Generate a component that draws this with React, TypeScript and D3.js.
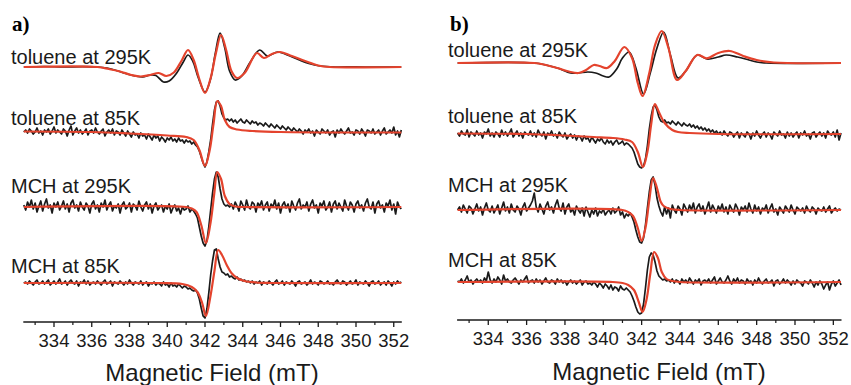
import React from "react";
import * as d3 from "d3";

// field grid used by the noisy spectra (mT)
const FIELD_START = 332.4;
const FIELD_END = 352.4;
const FIELD_STEP = 0.1;

const majorTicks = [334, 336, 338, 340, 342, 344, 346, 348, 350, 352];
const minorTicks = [333, 335, 337, 339, 341, 343, 345, 347, 349, 351];
const rowLabels = ["toluene at 295K", "toluene at 85K", "MCH at 295K", "MCH at 85K"];
const axisTitle = "Magnetic Field (mT)";

// ---- panel a ----
const tol295A_exp: [number, number][] = [
  [332.4, 1], [333.5, 1.5], [334.5, 1], [335.5, 1.3], [336.3, 1], [336.8, 0], [337.3, -2.5], [337.8, -5.5],
  [338.3, -8], [338.7, -9], [339.1, -7], [339.4, -7.5], [339.8, -14], [340.1, -13], [340.5, -5], [340.85, 6],
  [341.1, 13], [341.35, 7], [341.65, -10], [342.0, -24], [342.28, -12], [342.55, 15], [342.8, 35], [343.05, 20],
  [343.3, -3], [343.6, -12], [343.95, -8], [344.4, 6], [344.9, 18], [345.3, 12], [345.85, 16], [346.5, 12],
  [347.0, 8], [347.5, 4.5], [348.1, 2], [348.9, 1], [350, 1.2], [351, 0.8], [352.4, 1],
];
const tol295A_fit: [number, number][] = [
  [332.4, 1], [336.3, 1], [336.9, -1], [337.5, -3.5], [338.1, -7], [338.6, -8.5], [339.1, -7], [339.55, -5],
  [339.95, -8], [340.35, -4.5], [340.75, 7], [341.1, 18], [341.4, 8], [341.68, -10], [342.0, -25], [342.3, -10],
  [342.58, 15], [342.85, 33], [343.12, 18], [343.4, -3], [343.7, -10], [344.1, -5], [344.75, 15], [345.12, 10],
  [345.55, 14], [345.97, 16], [346.6, 12], [347.3, 7], [348.0, 2.5], [348.6, 1], [352.4, 1],
];
const tol85A_exp = [
  0, 2, -1, 3, 1, -2, 0, 4, -1, 1,
  -3, 2, 0, 3, -2, 1, 5, -1, 2, 0,
  -2, 3, 1, -4, 2, 6, -3, 1, 4, -1,
  2, -2, 0, 3, -3, 1, 2, -1, 4, 0,
  -2, 1, 3, -4, 0, 2, -1, 3, -3, 1,
  0, -3, 2, -1, -4, 1, -2, -5, 0, -3,
  -2, -6, -1, -4, -3, -7, -2, -5, -8, -3,
  -6, -4, -9, -5, -7, -10, -6, -8, -5, -9,
  -7, -10, -6, -9, -8, -11, -8, -10, -9, -12,
  -10, -13, -15, -19, -25, -31, -35, -30, -20, -8,
  8, 22, 30, 31, 26, 18, 14, 12, 13, 11,
  13, 10, 12, 9, 11, 13, 10, 9, 12, 10,
  8, 11, 9, 10, 7, 9, 8, 6, 9, 7,
  5, 8, 6, 4, 7, 5, 3, 6, 4, 2,
  5, 3, 1, 4, 2, 0, 3, 1, -2, 2,
  0, 3, -1, 1, -4, 2, 0, -2, 3, 1,
  -1, 2, -3, 0, 1, -5, 2, -1, 3, 0,
  -2, 1, 4, -1, 0, -3, 2, 1, -2, 3,
  0, -4, 2, 1, -1, 3, -2, 0, 2, -3,
  1, 4, -2, 0, 2, -1, 5, -3, 1, -5,
  2,
];
const tol85A_fit: [number, number][] = [
  [332.4, 0.5], [336, 0], [338, -1.5], [340, -3.5], [341, -5], [341.4, -8], [341.7, -18], [342.0, -34],
  [342.25, -18], [342.45, 8], [342.65, 31], [342.85, 26], [343.05, 12], [343.3, 5], [343.7, 2.5], [344.5, 1],
  [346, 0], [352.4, -0.5],
];
const mch295A_exp = [
  2, -3, 5, 0, 7, -2, 4, -5, 1, 6,
  -4, 3, 8, -1, 2, -6, 4, 0, 5, -3,
  1, 6, -2, 3, -5, 4, 7, -1, 2, -4,
  5, 0, -3, 4, 1, -6, 3, 6, -2, 2,
  -5, 4, 0, 7, -3, 2, 5, -4, 1, -1,
  3, -6, 2, 5, -2, 0, 4, -5, 3, 1,
  -3, 6, 0, -4, 2, 5, -2, 3, -6, 1,
  4, -3, 0, 2, -5, 1, -2, 3, -6, -1,
  2, -4, -1, -7, 0, -3, -2, 1, -5, -2,
  -4, -7, -11, -20, -29, -36, -39, -34, -20, -3,
  14, 28, 35, 30, 18, 8, 3, 1, 2, 0,
  3, -2, 5, 1, -4, 6, 2, -3, 7, 0,
  -2, 5, 3, -5, 4, 1, 6, -3, 2, 5,
  -4, 3, 0, 7, -2, 4, -6, 2, 5, -1,
  3, -5, 6, 1, -3, 4, 8, -2, 2, 0,
  5, -4, 3, 7, -1, 2, -6, 4, 1, 6,
  -3, 0, 5, -5, 3, 6, -2, 4, 0, -4,
  7, 1, -3, 5, 2, -5, 3, 6, -1, 2,
  -4, 4, 8, 0, -2, 5, -6, 3, 6, -1,
  2, -5, 4, 1, 7, -3, 3, -7, 5, 0,
  -2,
];
const mch295A_fit: [number, number][] = [
  [332.4, 0], [341.0, 0], [341.3, -1.5], [341.55, -5], [341.8, -18], [342.05, -36], [342.3, -15], [342.5, 15],
  [342.65, 35], [342.85, 28], [343.05, 11], [343.3, 3], [343.6, 0.5], [344, 0], [352.4, 0],
];
const mch85A_exp = [
  0, 1, -1, 2, 0, -2, 1, 3, -1, 0,
  2, -1, 1, 3, -2, 0, 2, -1, 1, 4,
  -1, 0, 2, -2, 1, 3, 0, -1, 2, -3,
  1, 0, 3, -1, 2, -2, 0, 1, -1, 2,
  0, -2, 1, 3, -1, 0, 2, -3, 1, 0,
  -1, 2, 0, -2, 1, -1, 3, 0, -2, 1,
  0, -1, 2, -2, 0, 1, -3, 0, -1, 1,
  -2, 0, -1, -3, 1, -2, -1, -4, 0, -3,
  -2, -4, -1, -3, -5, -3, -4, -6, -5, -7,
  -8, -7, -10, -16, -25, -33, -35, -26, -10, 8,
  22, 33, 34, 24, 16, 11, 10, 8, 9, 6,
  7, 5, 4, 6, 3, 4, 2, 3, 1, 2,
  0, 2, -1, 1, 0, 2, -2, 1, 0, -1,
  2, 0, -2, 1, 3, -1, 0, 2, -2, 1,
  0, -1, 2, 0, -3, 1, 2, -1, 0, 1,
  -2, 0, 3, -1, 1, 0, -2, 2, 1, -1,
  0, 2, -1, 0, -2, 1, 3, 0, -1, 2,
  1, -2, 0, 2, -1, 0, 3, -2, 1, 0,
  -1, 2, 0, -3, 1, 2, -1, 0, 2, -2,
  0, 1, -2, 2, 0, -3, 1, -1, 2, 0,
  1,
];
const mch85A_fit: [number, number][] = [
  [332.4, 0], [339.5, 0], [340.8, -1], [341.3, -4], [341.6, -9], [341.85, -20], [342.05, -33], [342.3, -12],
  [342.5, 12], [342.7, 33], [342.9, 28], [343.15, 18], [343.4, 10], [343.7, 5], [344.1, 2], [344.7, 0.5],
  [345.5, 0], [352.4, 0],
];

// ---- panel b ----
const tol295B_exp: [number, number][] = [
  [332.4, 0], [336.4, 0], [337.0, -2], [337.6, -5], [338.3, -10], [338.7, -10], [339.2, -9], [339.6, -10],
  [340.0, -13], [340.3, -14], [340.7, -6], [341.0, 5], [341.35, 11], [341.7, -5], [342.1, -31], [342.45, -10],
  [342.8, 15], [343.15, 31], [343.5, 8], [343.9, -15], [344.3, -8], [344.9, 8], [345.4, 4], [346.0, 6],
  [346.4, 8], [347.0, 6], [347.6, 3], [348.0, 1], [348.5, 0], [352.4, 0],
];
const tol295B_fit: [number, number][] = [
  [332.4, 0], [336.4, 0], [337.0, -2], [337.6, -5], [338.2, -8.5], [338.7, -10], [339.1, -7], [339.5, -2],
  [339.8, -3], [340.2, -5], [340.6, 2], [341.1, 16], [341.5, 5], [341.8, -20], [342.05, -33], [342.4, -10],
  [342.7, 18], [343.05, 32], [343.4, 15], [343.85, -17], [344.3, -8], [344.9, 8], [345.4, 4.7], [346.0, 10],
  [346.6, 12], [347.3, 7], [348.0, 3], [348.9, 0.5], [352.4, 0],
];
const tol85B_exp = [
  1, -2, 3, 0, -1, 4, -3, 2, 0, -2,
  3, -1, 1, -4, 2, 0, 5, -2, 1, -3,
  2, 0, -3, 4, -1, 2, -2, 1, 5, -3,
  0, 3, -2, 1, -4, 2, 0, -1, 3, -2,
  1, -3, 4, 0, -2, 2, -5, 1, -1, 3,
  -2, 0, -4, 2, -1, -3, 1, -5, -2, 0,
  -4, -1, -6, -2, -3, -7, -2, -5, -4, -8,
  -3, -6, -9, -5, -7, -4, -8, -10, -6, -9,
  -7, -11, -8, -6, -10, -9, -7, -11, -9, -10,
  -12, -14, -18, -24, -30, -33, -34, -32, -25, -12,
  5, 18, 27, 29, 24, 17, 13, 12, 14, 11,
  12, 10, 13, 11, 9, 12, 10, 8, 11, 9,
  8, 10, 7, 9, 6, 8, 5, 7, 4, 6,
  3, 5, 2, 4, 1, 3, 0, 2, -1, 3,
  0, -2, 2, 1, -3, 0, 2, -4, 1, -1,
  -3, 2, 0, -5, 1, -2, 3, -1, -4, 0,
  2, -3, 1, -1, -5, 2, 0, -2, 3, -1,
  0, -4, 2, -2, 1, -3, 0, 2, -4, 1,
  -1, 3, -2, 0, -5, 1, 2, -3, 0, 2,
  -2, 1, -4, 3, 0, -1, 2, -3, 4, -6,
  1,
];
const tol85B_fit: [number, number][] = [
  [332.4, 0.5], [336, 0], [338, -1.5], [339.5, -3], [340.5, -4], [341.1, -5.5], [341.5, -8], [341.8, -18],
  [342.07, -33], [342.3, -18], [342.5, 10], [342.69, 30], [342.9, 22], [343.2, 11], [343.6, 4], [343.9, 2],
  [344.5, 1], [346, 0], [352.4, 0],
];
const mch295B_exp = [
  0, 3, -2, 5, 1, -3, 4, 2, -4, 1,
  6, -1, 3, -5, 2, 7, 0, -2, 4, -3,
  1, 5, -4, 2, 8, -1, 3, -3, 6, 0,
  -2, 4, 1, -5, 3, 7, -1, 2, 5, 9,
  17, 3, -2, 6, 1, -4, 4, 8, 0, 3,
  -3, 5, 10, 2, -1, 7, -4, 3, 6, -2,
  1, -5, 4, 0, -3, 2, -6, 3, -2, -7,
  0, -4, 2, -6, -1, -3, 1, -5, -2, 0,
  -4, 2, -3, -1, 3, -5, -2, -8, -4, -6,
  -3, -7, -12, -20, -27, -32, -33, -28, -15, 2,
  18, 30, 33, 25, 12, 4, -2, -6, 3, -4,
  2, -8, 5, 0, -3, 4, 1, -5, 6, 2,
  -2, 5, 0, 7, -3, 3, 6, -1, 4, -4,
  2, 8, -2, 5, 1, -3, 4, 0, 6, -2,
  3, -4, 5, 1, -2, 6, 2, -5, 3, 0,
  4, -2, 7, 1, -3, 5, -1, 3, -4, 2,
  0, 5, -3, 2, 6, -2, 1, -5, 3, 0,
  -3, 4, 1, -2, 5, 0, -4, 3, 1, -1,
  2, -3, 4, 0, -2, 3, 1, -4, 2, 0,
  -1, 3, -2, 1, 4, -3, 0, 2, -1, 1,
  0,
];
const mch295B_fit: [number, number][] = [
  [332.4, 0], [341.0, 0], [341.3, -2], [341.55, -6], [341.8, -18], [342.0, -31], [342.2, -18], [342.4, 10],
  [342.6, 32], [342.8, 22], [343.0, 8], [343.15, 4], [343.5, 1], [344, 0], [352.4, 0],
];
const mch85B_exp = [
  1, 0, 3, -1, 2, 6, 0, 2, -2, 1,
  3, 0, 2, -1, 4, 1, 10, 2, -1, 3,
  0, 5, 2, -2, 7, 1, 3, 0, -1, 2,
  4, 1, -2, 2, 0, 3, 6, -1, 1, 2,
  -1, 3, 0, 2, -2, 1, 4, 0, -1, 2,
  1, -2, 3, 0, 2, -1, 1, -3, 0, 2,
  -1, 1, -2, 0, 2, -3, 0, 1, -2, -1,
  -3, 0, -2, -5, -1, -3, -6, -2, -4, -7,
  -3, -8, -5, -6, -9, -4, -7, -8, -6, -8,
  -10, -14, -19, -25, -30, -32, -31, -22, -6, 12,
  25, 29, 27, 20, 11, 6, 4, 2, 3, 1,
  2, 0, 3, -1, 2, 1, -2, 3, 0, 2,
  -1, 4, 1, -2, 2, 0, 3, -3, 1, 2,
  0, 3, -1, 2, 5, -2, 1, 4, 0, -1,
  2, 6, 1, -2, 3, 0, 4, -1, 2, 1,
  -2, 3, 0, 1, -3, 2, -1, 4, 0, -2,
  1, 3, -1, 0, 2, -4, 1, 2, -2, 0,
  3, -1, 2, 0, -3, 1, -2, 2, 0, -1,
  -4, 1, 0, -2, 2, -1, -5, 0, -3, 1,
  -2, -7, -3, 0, -8, -2, 1, -4, -1, 2,
  -3,
];
const mch85B_fit: [number, number][] = [
  [332.4, 0], [340.5, 0], [341.0, -1], [341.3, -3], [341.6, -8], [341.85, -20], [342.05, -30], [342.25, -18],
  [342.45, 8], [342.65, 30], [342.85, 24], [343.05, 10], [343.3, 3], [343.6, 1], [344, 0], [352.4, 0],
];

const W = 851;
const H = 385;
const RED = "#e4432d";
const INK = "#1a1a1a";
const SANS = "'Liberation Sans', Arial, sans-serif";

type Pt = [number, number];
const onGrid = (vals: number[]): Pt[] => vals.map((v, i) => [FIELD_START + i * FIELD_STEP, v]);

const panels = [
  {
    tag: "a)", tagX: 12, tagY: 31, range: [23.8, 401.3], axisY: 322, tickLabelY: 347, titleX: 212, titleY: 381, labelX: 11,
    rows: [
      { labelY: 64, base: 68, exp: tol295A_exp, fit: tol295A_fit, smooth: true },
      { labelY: 125, base: 132, exp: onGrid(tol85A_exp), fit: tol85A_fit, smooth: false },
      { labelY: 193, base: 207, exp: onGrid(mch295A_exp), fit: mch295A_fit, smooth: false },
      { labelY: 273, base: 283, exp: onGrid(mch85A_exp), fit: mch85A_fit, smooth: false },
    ],
  },
  {
    tag: "b)", tagX: 450, tagY: 31, range: [457.6, 841], axisY: 320, tickLabelY: 345, titleX: 659, titleY: 380, labelX: 448,
    rows: [
      { labelY: 57, base: 63, exp: tol295B_exp, fit: tol295B_fit, smooth: true },
      { labelY: 123, base: 134, exp: onGrid(tol85B_exp), fit: tol85B_fit, smooth: false },
      { labelY: 192, base: 210, exp: onGrid(mch295B_exp), fit: mch295B_fit, smooth: false },
      { labelY: 267, base: 282, exp: onGrid(mch85B_exp), fit: mch85B_fit, smooth: false },
    ],
  },
];

function Panel({ p }: { p: (typeof panels)[number] }) {
  const x = d3.scaleLinear().domain([FIELD_START, FIELD_END]).range(p.range);
  return (
    <g>
      <text x={p.tagX} y={p.tagY} fontFamily="'Liberation Serif', 'Times New Roman', serif" fontWeight="bold" fontSize={21}>
        {p.tag}
      </text>
      {p.rows.map((r, k) => {
        const y = d3.scaleLinear().domain([-40, 40]).range([r.base + 40, r.base - 40]);
        const smoothLine = d3.line<Pt>().x((d) => x(d[0])).y((d) => y(d[1])).curve(d3.curveCatmullRom.alpha(0.5));
        const rawLine = d3.line<Pt>().x((d) => x(d[0])).y((d) => y(d[1]));
        return (
          <g key={k}>
            <text x={p.labelX} y={r.labelY} fontFamily={SANS} fontSize={20} fill={INK}>
              {rowLabels[k]}
            </text>
            <path d={(r.smooth ? smoothLine : rawLine)(r.exp) ?? ""} fill="none" stroke={INK} strokeWidth={1.7} strokeLinejoin="round" />
            <path d={smoothLine(r.fit) ?? ""} fill="none" stroke={RED} strokeWidth={2.2} />
          </g>
        );
      })}
      <line x1={p.range[0] - 0.5} x2={p.range[1] + 0.5} y1={p.axisY} y2={p.axisY} stroke={INK} strokeWidth={1.4} />
      {majorTicks.map((t) => (
        <g key={t}>
          <line x1={x(t)} x2={x(t)} y1={p.axisY} y2={p.axisY + 5} stroke={INK} strokeWidth={1.3} />
          <text x={x(t)} y={p.tickLabelY} textAnchor="middle" fontFamily={SANS} fontSize={18.5} fill={INK}>
            {t}
          </text>
        </g>
      ))}
      {minorTicks.map((t) => (
        <line key={t} x1={x(t)} x2={x(t)} y1={p.axisY} y2={p.axisY + 3} stroke={INK} strokeWidth={1.2} />
      ))}
      <text x={p.titleX} y={p.titleY} textAnchor="middle" fontFamily={SANS} fontSize={24} fill={INK}>
        {axisTitle}
      </text>
    </g>
  );
}

export default function App() {
  return (
    <svg width={W} height={H} style={{ position: "absolute", left: 0, top: 0, background: "#fff" }}>
      {panels.map((p) => (
        <Panel key={p.tag} p={p} />
      ))}
    </svg>
  );
}
